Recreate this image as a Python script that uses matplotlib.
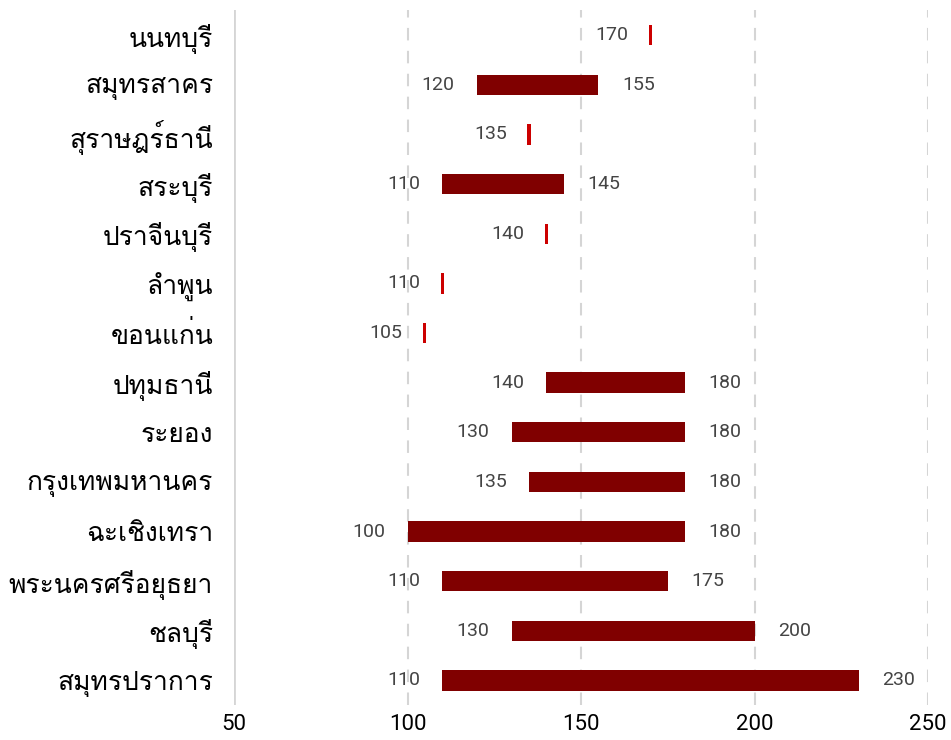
import matplotlib
matplotlib.use("Agg")
import matplotlib.pyplot as plt
from matplotlib import font_manager
from matplotlib.ft2font import FT2Font

provinces = ["นนทบุรี", "สมุทรสาคร", "สุราษฎร์ธานี", "สระบุรี", "ปราจีนบุรี", "ลำพูน", "ขอนแก่น",
             "ปทุมธานี", "ระยอง", "กรุงเทพมหานคร", "ฉะเชิงเทรา", "พระนครศรีอยุธยา", "ชลบุรี", "สมุทรปราการ"]
low = [170, 120, 135, 110, 140, 110, 105, 140, 130, 135, 100, 110, 130, 110]
high = [170, 155, 135, 145, 140, 110, 105, 180, 180, 180, 180, 175, 200, 230]
xticks = [50, 100, 150, 200, 250]


def thai_font():
    # look for any installed font that has Thai glyphs
    names = []
    for f in font_manager.fontManager.ttflist:
        try:
            cmap = FT2Font(f.fname).get_charmap()
        except Exception:
            continue
        if 0x0E01 in cmap and 0x0E33 in cmap:
            names.append(f.name)
    return names


found = thai_font()
families = (found[:1] if found else []) + ["DejaVu Sans"]
num_font = "Roboto"

fig = plt.figure(figsize=(9.51, 7.40), dpi=100)
ax = fig.add_axes([0.246, 0.047, 0.73, 0.939])

n = len(provinces)
ys = [n - 1 - i for i in range(n)]

lab = dict(textcoords="offset points", va="center", fontsize=14, color="#444444",
           family=num_font, fontweight="normal")
for y, lo, hi in zip(ys, low, high):
    if hi > lo:
        ax.barh(y, hi - lo, left=lo, height=0.41, color="#800000", zorder=3)
        ax.annotate(str(lo), (lo, y), xytext=(-16, 0), ha="right", **lab)
        ax.annotate(str(hi), (hi, y), xytext=(17, 0), ha="left", **lab)
    else:
        ax.barh(y, 0.9, left=lo - 0.45, height=0.41, color="#cc0000", zorder=3)
        ax.annotate(str(lo), (lo, y), xytext=(-16, 0), ha="right", **lab)

ax.set_xlim(50, 250)
ax.set_ylim(-0.5, n - 0.5)
ax.set_xticks(xticks)
ax.set_xticklabels([str(t) for t in xticks], fontsize=16, family=num_font)
ax.set_yticks(ys)
ax.set_yticklabels(provinces, fontsize=19, family=families)
ax.tick_params(axis="both", length=0)
ax.tick_params(axis="y", pad=15)
ax.tick_params(axis="x", pad=6)

for t in xticks[1:]:
    ax.axvline(t, color="#d5d5d5", lw=1.5, ls=(0, (6, 5)), zorder=1)
ax.axvline(50, color="#d5d5d5", lw=2, zorder=1)

for s in ax.spines.values():
    s.set_visible(False)

fig.savefig("out.png", dpi=100)
